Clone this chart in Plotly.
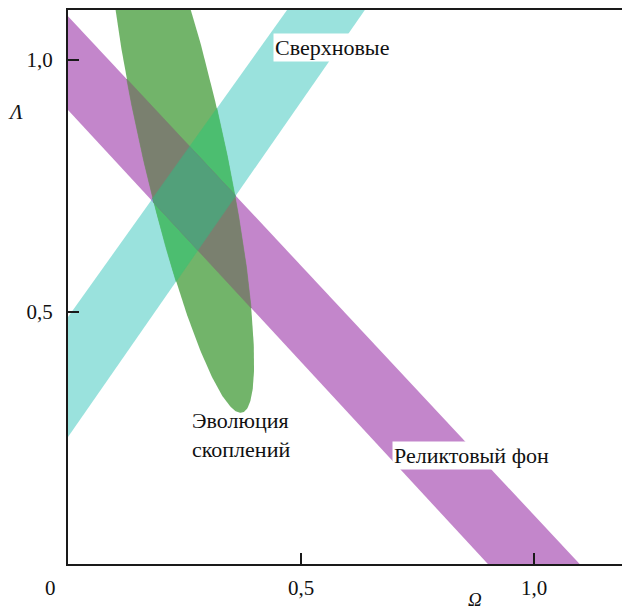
import numpy as np
import plotly.graph_objects as go

# ---- data ----
OMEGA_TICKS = [0.5, 1.0]
OMEGA_TICK_TEXT = ["0,5", "1,0"]
LAMBDA_TICKS = [0.5, 1.0]
LAMBDA_TICK_TEXT = ["0,5", "1,0"]

# supernova band: edges  Lambda = slope * Omega + intercept
SN_LOWER = [1.33, 0.252]
SN_UPPER = [1.296, 0.490]
# CMB band
CMB_LOWER = [-1.0, 0.901]
CMB_UPPER = [-0.99, 1.087]
# cluster-evolution ellipse: centre and conjugate semi-diameters
CLUSTER_CENTER = [0.2415, 0.85]
CLUSTER_AXIS_A = [0.129, -0.55]
CLUSTER_AXIS_B = [0.091, 0.0]

LABELS = ["Сверхновые", "Эволюция<br>скоплений", "Реликтовый фон"]
LABEL_POS = [(0.440, 1.024), (0.262, 0.256), (0.695, 0.216)]

C_SN = "#9AE2DD"
C_CMB = "#C386CB"
C_SN_CMB = "#8C96DC"
C_CL = "#72B46A"
C_CL_CMB = "#7A806F"
C_CL_SN = "#4CBE70"
C_ALL = "#52A07A"

FONT = "Liberation Serif"


def clip(poly, a, b, c):
    """keep part of polygon with a*x + b*y <= c"""
    out = []
    n = len(poly)
    for i in range(n):
        p = poly[i]
        q = poly[(i + 1) % n]
        fp = a * p[0] + b * p[1] - c
        fq = a * q[0] + b * q[1] - c
        if fp <= 0:
            out.append(p)
        if (fp <= 0) != (fq <= 0):
            t = fp / (fp - fq)
            out.append((p[0] + t * (q[0] - p[0]), p[1] + t * (q[1] - p[1])))
    return out


def strip(poly, lower, upper):
    poly = clip(poly, lower[0], -1.0, -lower[1])
    poly = clip(poly, -upper[0], 1.0, upper[1])
    return poly


box = [(-0.5, -0.5), (1.8, -0.5), (1.8, 1.8), (-0.5, 1.8)]
t = np.linspace(0, 2 * np.pi, 400, endpoint=False)
ellipse = [
    (CLUSTER_CENTER[0] + np.cos(a) * CLUSTER_AXIS_A[0] + np.sin(a) * CLUSTER_AXIS_B[0],
     CLUSTER_CENTER[1] + np.cos(a) * CLUSTER_AXIS_A[1] + np.sin(a) * CLUSTER_AXIS_B[1])
    for a in t
]

sn = strip(box, SN_LOWER, SN_UPPER)
cmb = strip(box, CMB_LOWER, CMB_UPPER)
sn_cmb = strip(sn, CMB_LOWER, CMB_UPPER)
cl_sn = strip(ellipse, SN_LOWER, SN_UPPER)
cl_cmb = strip(ellipse, CMB_LOWER, CMB_UPPER)
cl_all = strip(cl_sn, CMB_LOWER, CMB_UPPER)

fig = go.Figure()


def add_poly(poly, color, edge=0.0):
    xs = [p[0] for p in poly] + [poly[0][0]]
    ys = [p[1] for p in poly] + [poly[0][1]]
    fig.add_trace(go.Scatter(x=xs, y=ys, fill="toself", fillcolor=color, mode="lines",
                             line=dict(width=edge, color=color), hoverinfo="skip",
                             showlegend=False))


add_poly(sn, C_SN)
add_poly(cmb, C_CMB)
add_poly(sn_cmb, C_SN_CMB, 0.6)
add_poly(ellipse, C_CL)
add_poly(cl_sn, C_CL_SN, 0.6)
add_poly(cl_cmb, C_CL_CMB, 0.6)
add_poly(cl_all, C_ALL, 0.6)

W, H = 622, 612
ML, MR, MT, MB = 68, 0, 10, 48
PX_X = 466.0
PX_Y = 504.0

axis_common = dict(showgrid=False, zeroline=False, showline=True, linecolor="#1a1a1a",
                   linewidth=2, ticks="inside", ticklen=11, tickwidth=1.6,
                   tickcolor="#1a1a1a", tickfont=dict(family=FONT, size=21, color="#111"))

fig.update_layout(
    width=W, height=H,
    margin=dict(l=ML, r=MR, t=MT, b=MB, pad=0),
    paper_bgcolor="white", plot_bgcolor="white",
    font=dict(family=FONT),
    xaxis=dict(range=[0, (W - ML - MR) / PX_X], tickvals=OMEGA_TICKS, ticktext=OMEGA_TICK_TEXT,
               mirror=True, ticklabelstandoff=4, **axis_common),
    yaxis=dict(range=[0, (H - MT - MB) / PX_Y], tickvals=LAMBDA_TICKS, ticktext=LAMBDA_TICK_TEXT,
               mirror=False, ticklabelstandoff=9, **axis_common),
    showlegend=False,
)

pw = W - ML - MR
ph = H - MT - MB
ann = []
# "0" origin label, axis titles
ann.append(dict(text="0", x=(50 - ML) / pw, y=(ph + MT - 588) / ph, xref="paper", yref="paper",
                showarrow=False, xanchor="center", yanchor="middle",
                font=dict(family=FONT, size=21, color="#111")))
ann.append(dict(text="<i>Λ</i>", x=(15 - ML) / pw, y=(ph + MT - 112) / ph, xref="paper", yref="paper",
                showarrow=False, xanchor="center", yanchor="middle",
                font=dict(family=FONT, size=21, color="#111")))
ann.append(dict(text="<i>Ω</i>", x=(475 - ML) / pw, y=(ph + MT - 612) / ph, xref="paper", yref="paper",
                showarrow=False, xanchor="center", yanchor="bottom",
                font=dict(family=FONT, size=19, color="#111")))

bgs = ["white", "rgba(0,0,0,0)", "white"]
for lab, (lx, ly), bg in zip(LABELS, LABEL_POS, bgs):
    ann.append(dict(text=lab, x=lx, y=ly, xref="x", yref="y", showarrow=False,
                    xanchor="left", yanchor="middle", align="left", bgcolor=bg, borderpad=1,
                    font=dict(family=FONT, size=22, color="#111")))

fig.update_layout(annotations=ann)
fig.write_html("out.html")
